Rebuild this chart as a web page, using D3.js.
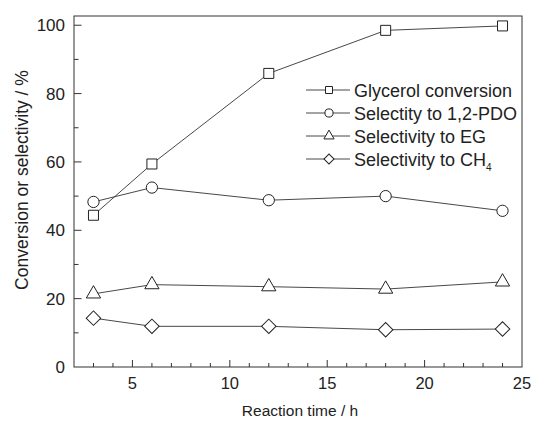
<!DOCTYPE html>
<html>
<head>
<meta charset="utf-8">
<script src="https://cdn.jsdelivr.net/npm/d3@7"></script>
<style>
  body { margin: 0; background: #fff; }
  svg text { font-family: "Liberation Sans", Arial, sans-serif; fill: #222; }
</style>
</head>
<body>
<svg id="chart" width="534" height="422"></svg>
<script>
const times = [3, 6, 12, 18, 24]
const conversion = [44.4, 59.4, 85.9, 98.5, 99.8]
const selPDO = [48.3, 52.5, 48.8, 50.0, 45.7]
const selEG = [21.4, 24.1, 23.5, 22.8, 24.9]
const selCH4 = [14.3, 11.9, 11.9, 10.9, 11.1]
const seriesNames = ["Glycerol conversion", "Selectity to 1,2-PDO", "Selectivity to EG", "Selectivity to CH"]
const xTicks = [5, 10, 15, 20, 25]
const yTicks = [0, 20, 40, 60, 80, 100]

const svg = d3.select("#chart")
const plotLeft = 74, plotRight = 522, plotTop = 16, plotBottom = 367
const ink = "#222"

const x = d3.scaleLinear().domain([2, 25]).range([plotLeft, plotRight])
const y = d3.scaleLinear().domain([0, 102.7]).range([plotBottom, plotTop])

// minor + major ticks, pointing inward
svg.append("g")
  .selectAll("line")
  .data(d3.range(3, 25))
  .enter()
  .append("line")
  .attr("x1", (d) => x(d)).attr("x2", (d) => x(d))
  .attr("y1", plotBottom).attr("y2", (d) => plotBottom - (d % 5 === 0 ? 7 : 4))
  .attr("stroke", "#333").attr("stroke-width", 1)

svg.append("g")
  .selectAll("line")
  .data(d3.range(10, 101, 10))
  .enter()
  .append("line")
  .attr("y1", (d) => y(d)).attr("y2", (d) => y(d))
  .attr("x1", plotLeft).attr("x2", (d) => plotLeft + (d % 20 === 0 ? 7.5 : 4.5))
  .attr("stroke", "#333").attr("stroke-width", 1)

// frame
svg.append("rect")
  .attr("x", plotLeft).attr("y", plotTop)
  .attr("width", plotRight - plotLeft).attr("height", plotBottom - plotTop)
  .attr("fill", "none").attr("stroke", "#333").attr("stroke-width", 1)

// tick labels
svg.append("g")
  .selectAll("text")
  .data(xTicks)
  .enter()
  .append("text")
  .attr("x", (d) => x(d)).attr("y", plotBottom + 22)
  .attr("text-anchor", "middle")
  .attr("font-size", 16.5)
  .text((d) => d)

svg.append("g")
  .selectAll("text")
  .data(yTicks)
  .enter()
  .append("text")
  .attr("x", plotLeft - 9).attr("y", (d) => y(d) + 6)
  .attr("text-anchor", "end")
  .attr("font-size", 17)
  .text((d) => d)

// axis titles
svg.append("text")
  .attr("x", 300).attr("y", 416)
  .attr("text-anchor", "middle").attr("font-size", 15.5)
  .text("Reaction time / h")

svg.append("text")
  .attr("transform", "translate(28, 180) rotate(-90)")
  .attr("text-anchor", "middle").attr("font-size", 17.5)
  .text("Conversion or selectivity / %")

// markers
const shapes = [d3.symbolSquare, d3.symbolCircle, d3.symbolTriangle, d3.symbolSquare]
const rotations = [0, 0, 0, 45]
const plotSizes = [100, 100, 88, 105]
const legendSizes = [49, 52, 45, 50]

const series = [conversion, selPDO, selEG, selCH4]
const line = d3.line().x((d, i) => x(times[i])).y((d) => y(d))

series.forEach((vals, k) => {
  svg.append("path")
    .attr("d", line(vals))
    .attr("fill", "none").attr("stroke", "#333").attr("stroke-width", 0.9)

  svg.append("g")
    .selectAll("path")
    .data(vals)
    .enter()
    .append("path")
    .attr("transform", (d, i) => `translate(${x(times[i])}, ${y(d)}) rotate(${rotations[k]})`)
    .attr("d", d3.symbol().type(shapes[k]).size(plotSizes[k]))
    .attr("fill", "#fff").attr("stroke", ink).attr("stroke-width", 1)
})

// legend
const legend = svg.append("g")
const rowY = [90, 113, 136, 159]
seriesNames.forEach((name, k) => {
  const g = legend.append("g").attr("transform", `translate(306, ${rowY[k]})`)
  g.append("line").attr("x1", 0).attr("x2", 44).attr("y1", 0).attr("y2", 0)
    .attr("stroke", "#333").attr("stroke-width", 0.9)
  g.append("path")
    .attr("transform", `translate(23, 0) rotate(${rotations[k]})`)
    .attr("d", d3.symbol().type(shapes[k]).size(legendSizes[k]))
    .attr("fill", "#fff").attr("stroke", ink).attr("stroke-width", 1)
  const t = g.append("text").attr("x", 48).attr("y", 6.5).attr("font-size", 18).text(name)
  if (k === 3) t.append("tspan").attr("font-size", 10).attr("dy", 5).text("4")
})
</script>
</body>
</html>
